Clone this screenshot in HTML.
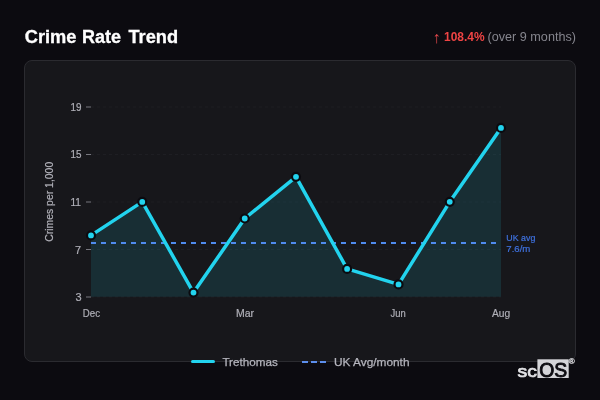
<!DOCTYPE html>
<html lang="en">
<head>
<meta charset="utf-8">
<title>Crime Rate Trend</title>
<style>
html,body{margin:0;padding:0;}
body{width:600px;height:400px;background:#0c0b10;overflow:hidden;position:relative;font-family:"Liberation Sans","DejaVu Sans",sans-serif;}
.card{position:absolute;left:24px;top:60px;width:550px;height:300px;background:#17171b;border:1px solid #2b2b30;border-radius:8px;}
svg{position:absolute;left:0;top:0;}
text{font-family:"Liberation Sans","DejaVu Sans",sans-serif;}
</style>
</head>
<body>
<div class="card"></div>
<svg width="600" height="400" viewBox="0 0 600 400" xmlns="http://www.w3.org/2000/svg">
  <!-- header -->
  <g font-size="18" font-weight="700" fill="#ffffff" stroke="#ffffff" stroke-width="0.3">
    <text x="24.7" y="43" textLength="51.8" lengthAdjust="spacingAndGlyphs">Crime</text>
    <text x="82.1" y="43">Rate</text>
    <text x="128.4" y="43" textLength="49.7" lengthAdjust="spacingAndGlyphs">Trend</text>
  </g>
  <text x="432.6" y="42.9" font-size="16" fill="#e5484d">↑</text>
  <text x="444" y="40.9" font-size="12" font-weight="700" fill="#ef4444" textLength="40.5" lengthAdjust="spacingAndGlyphs">108.4%</text>
  <text x="487.5" y="40.9" font-size="12" fill="#85858d" textLength="88.5" lengthAdjust="spacingAndGlyphs">(over 9 months)</text>

  <!-- grid -->
  <g stroke="#1e1e23" stroke-width="1" stroke-dasharray="3,3">
    <line x1="91" y1="107" x2="501" y2="107"/>
    <line x1="91" y1="154.5" x2="501" y2="154.5"/>
    <line x1="91" y1="202" x2="501" y2="202"/>
    <line x1="91" y1="249.5" x2="501" y2="249.5"/>
    <line x1="91" y1="297" x2="501" y2="297"/>
  </g>
  <g stroke="#77777f" stroke-width="1">
    <line x1="86" y1="107" x2="91" y2="107"/>
    <line x1="86" y1="154.5" x2="91" y2="154.5"/>
    <line x1="86" y1="202" x2="91" y2="202"/>
    <line x1="86" y1="249.5" x2="91" y2="249.5"/>
    <line x1="86" y1="297" x2="91" y2="297"/>
  </g>
  <g font-size="11" fill="#b0b0b8" stroke="#b0b0b8" stroke-width="0.2" text-anchor="end">
    <text x="81.5" y="110.9" textLength="11" lengthAdjust="spacingAndGlyphs">19</text>
    <text x="81.5" y="158.4" textLength="11" lengthAdjust="spacingAndGlyphs">15</text>
    <text x="81" y="205.9" textLength="10.6" lengthAdjust="spacingAndGlyphs">11</text>
    <text x="81.2" y="254">7</text>
    <text x="81.5" y="300.9">3</text>
  </g>
  <text transform="translate(53.4,201.8) rotate(-90)" font-size="11" fill="#b0b0b8" stroke="#b0b0b8" stroke-width="0.2" text-anchor="middle" textLength="80" lengthAdjust="spacingAndGlyphs">Crimes per 1,000</text>
  <g font-size="11" fill="#b0b0b8" stroke="#b0b0b8" stroke-width="0.2">
    <text x="82.8" y="317" textLength="17.2" lengthAdjust="spacingAndGlyphs">Dec</text>
    <text x="236" y="317" textLength="18" lengthAdjust="spacingAndGlyphs">Mar</text>
    <text x="390.5" y="317" textLength="15.2" lengthAdjust="spacingAndGlyphs">Jun</text>
    <text x="492" y="317" textLength="18.2" lengthAdjust="spacingAndGlyphs">Aug</text>
  </g>

  <!-- area -->
  <path d="M91,235.4 L142.25,201.9 L193.5,292.6 L244.75,218.5 L296,176.8 L347.1,268.9 L398.5,284.4 L449.75,201.8 L501,127.9 L501,296.8 L91,296.8 Z" fill="rgba(34,211,238,0.12)"/>
  <!-- uk avg -->
  <line x1="91" y1="243" x2="501" y2="243" stroke="#4f8bee" stroke-width="2" stroke-dasharray="5,5"/>
  <!-- line -->
  <path d="M91,235.4 L142.25,201.9 L193.5,292.6 L244.75,218.5 L296,176.8 L347.1,268.9 L398.5,284.4 L449.75,201.8 L501,127.9" fill="none" stroke="#22d3ee" stroke-width="3.5" stroke-linejoin="round" stroke-linecap="round"/>
  <g fill="#22d3ee" stroke="#0b0b10" stroke-width="2.2">
    <circle cx="91" cy="235.4" r="4"/>
    <circle cx="142.25" cy="201.9" r="4"/>
    <circle cx="193.5" cy="292.6" r="4"/>
    <circle cx="244.75" cy="218.5" r="4"/>
    <circle cx="296" cy="176.8" r="4"/>
    <circle cx="347.1" cy="268.9" r="4"/>
    <circle cx="398.5" cy="284.4" r="4"/>
    <circle cx="449.75" cy="201.8" r="4"/>
    <circle cx="501" cy="127.9" r="4"/>
  </g>
  <!-- uk avg label -->
  <text x="506.3" y="241" font-size="9" fill="#3f72e0" stroke="#3f72e0" stroke-width="0.2" textLength="29" lengthAdjust="spacingAndGlyphs">UK avg</text>
  <text x="506.3" y="252" font-size="9" fill="#3f72e0" stroke="#3f72e0" stroke-width="0.2" textLength="24" lengthAdjust="spacingAndGlyphs">7.6/m</text>

  <!-- legend -->
  <line x1="192.5" y1="361.5" x2="213.5" y2="361.5" stroke="#22d3ee" stroke-width="3" stroke-linecap="round"/>
  <text x="222.4" y="366" font-size="11" fill="#b4b4bc" stroke="#b4b4bc" stroke-width="0.25" textLength="55.4" lengthAdjust="spacingAndGlyphs">Trethomas</text>
  <line x1="302" y1="362" x2="326" y2="362" stroke="#5c8eec" stroke-width="2" stroke-dasharray="6,3"/>
  <text x="334" y="366" font-size="11" fill="#b4b4bc" stroke="#b4b4bc" stroke-width="0.25" textLength="75.5" lengthAdjust="spacingAndGlyphs">UK Avg/month</text>

  <!-- logo -->
  <text x="517.5" y="376.8" font-size="17.3" fill="#e4e4e7" stroke="#e4e4e7" stroke-width="0.7" textLength="19.4" lengthAdjust="spacingAndGlyphs">sc</text>
  <rect x="537.4" y="359.3" width="31.3" height="18.7" fill="#d4d4d8"/>
  <text x="539.2" y="377" font-size="19.8" fill="#0c0b10" stroke="#0c0b10" stroke-width="0.9" textLength="28" lengthAdjust="spacingAndGlyphs">OS</text>
  <text x="568.7" y="364" font-size="8" fill="#e0e0e4" stroke="#e0e0e4" stroke-width="0.25">®</text>
</svg>
</body>
</html>
